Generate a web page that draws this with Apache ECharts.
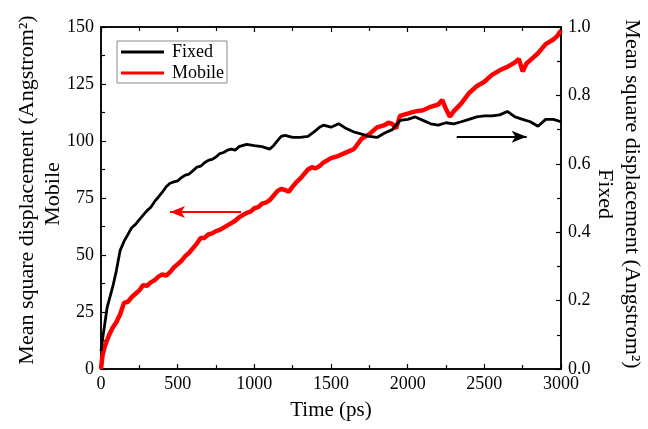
<!DOCTYPE html>
<html>
<head>
<meta charset="utf-8">
<script src="https://cdn.jsdelivr.net/npm/echarts@6/dist/echarts.min.js"></script>
<style>html,body{margin:0;padding:0;background:#fff;}#c{width:648px;height:429px;}</style>
</head>
<body>
<div id="c"></div>
<script>
// ---- data ----
const fixedTime = [0,10,25,40,60,80,100,125,150,175,200,225,250,275,300,325,350,375,400,425,450,475,500,525,550,575,600,625,650,675,700,725,750,775,800,825,850,875,900,950,1000,1050,1100,1125,1150,1175,1200,1250,1300,1350,1400,1425,1450,1500,1550,1600,1650,1700,1750,1800,1850,1900,1950,2000,2050,2100,2150,2200,2250,2300,2350,2400,2450,2500,2550,2600,2650,2700,2750,2800,2850,2900,2950,3000];
const fixedMSD = [0.053,0.087,0.133,0.18,0.213,0.247,0.287,0.347,0.373,0.393,0.413,0.423,0.437,0.45,0.463,0.473,0.49,0.503,0.517,0.533,0.543,0.547,0.55,0.56,0.567,0.57,0.58,0.59,0.593,0.603,0.61,0.613,0.62,0.63,0.633,0.64,0.643,0.64,0.65,0.657,0.653,0.65,0.643,0.653,0.667,0.68,0.683,0.677,0.677,0.68,0.697,0.707,0.713,0.707,0.717,0.703,0.693,0.687,0.68,0.677,0.69,0.70,0.727,0.73,0.737,0.727,0.717,0.713,0.72,0.717,0.723,0.73,0.737,0.74,0.74,0.743,0.753,0.737,0.73,0.723,0.71,0.73,0.73,0.723];
const mobileTime = [0,10,25,50,75,100,125,150,175,200,225,250,275,300,325,350,375,400,425,450,475,500,525,550,575,600,625,650,675,700,725,750,775,800,825,850,875,900,925,950,975,1000,1025,1050,1075,1100,1125,1150,1175,1200,1225,1250,1275,1300,1325,1350,1375,1400,1425,1450,1475,1500,1550,1600,1650,1700,1750,1800,1850,1875,1900,1925,1950,2000,2050,2100,2150,2200,2225,2250,2275,2300,2350,2400,2450,2500,2550,2600,2650,2700,2725,2750,2775,2800,2850,2900,2950,2975,3000];
const mobileMSD = [0,6,10,14.5,18,20.5,24,29,29.5,31.5,33,34.5,36.8,36.5,38,39,40.5,41.5,41,42.5,44.5,46,47.5,49.5,51,53,55,57.5,57.5,59,59.5,60.5,61,62,63,64,65,66.5,67.5,68.5,69,70.5,71,72.5,73,74,76,78,79,78.5,77.8,80,82,83.6,85.5,87.5,88.5,88,89,90.5,91.5,92.5,93.5,95,96.5,101,103,106,107,108,107.5,105.5,111,112,113,113.5,115,116,118,114,110.7,113,116.5,121,124,126,129,131,132.5,134.5,136,130.5,134,135.5,138.5,142.5,144.5,146,148.5];
const xTicks = {min: 0, max: 3000, interval: 500};
const leftTicks = {min: 0, max: 150, interval: 25};
const rightTicks = {min: 0, max: 1.0, interval: 0.2};
const seriesNames = ['Fixed', 'Mobile'];
// annotation arrows in data units
const mobileArrow = [[913, 68.9], [450, 68.9]];
const fixedArrow = [[2320, 0.679], [2776, 0.679]];

const pair = (t, v) => t.map((x, i) => [x, v[i]]);
const FONT = '"Liberation Serif", "Times New Roman", serif';
const chart = echarts.init(document.getElementById('c'), null, {renderer: 'canvas'});

const axisCommon = {
  axisLine: {show: true, onZero: false, lineStyle: {color: '#000', width: 1.5}},
  axisTick: {show: true, inside: true, length: 5, lineStyle: {color: '#000', width: 1.2}},
  minorTick: {show: true, splitNumber: 2, length: 4, lineStyle: {color: '#000', width: 1.2}},
  splitLine: {show: false},
  minorSplitLine: {show: false},
  axisLabel: {color: '#000', fontFamily: FONT, fontSize: 18}
};

chart.setOption({
  animation: false,
  backgroundColor: '#fff',
  grid: {left: 101, right: 87, top: 27, bottom: 60, containLabel: false, show: true, borderColor: '#000', borderWidth: 1.5, backgroundColor: 'transparent'},
  legend: {
    data: seriesNames,
    orient: 'vertical',
    left: 117, top: 41,
    padding: [2, 3, 1, 4],
    itemGap: 3,
    itemWidth: 43, itemHeight: 3,
    icon: 'rect',
    borderColor: '#888', borderWidth: 1,
    textStyle: {color: '#000', fontFamily: FONT, fontSize: 18, padding: [0, 0, 0, 3]}
  },
  xAxis: [
    Object.assign({}, axisCommon, {type: 'value', position: 'bottom', min: xTicks.min, max: xTicks.max, interval: xTicks.interval,
      axisLabel: Object.assign({}, axisCommon.axisLabel, {margin: 6, formatter: v => String(v)})}),
    Object.assign({}, axisCommon, {type: 'value', position: 'top', min: xTicks.min, max: xTicks.max, interval: xTicks.interval,
      axisLabel: {show: false}})
  ],
  yAxis: [
    Object.assign({}, axisCommon, {type: 'value', position: 'left', min: leftTicks.min, max: leftTicks.max, interval: leftTicks.interval,
      axisLabel: Object.assign({}, axisCommon.axisLabel, {margin: 7, formatter: v => String(v)})}),
    Object.assign({}, axisCommon, {type: 'value', position: 'right', min: rightTicks.min, max: rightTicks.max, interval: rightTicks.interval,
      axisLabel: Object.assign({}, axisCommon.axisLabel, {margin: 7, formatter: v => v.toFixed(1)})})
  ],
  series: [
    {
      name: seriesNames[0], type: 'line', xAxisIndex: 0, yAxisIndex: 1,
      data: pair(fixedTime, fixedMSD), showSymbol: false, symbol: 'none', z: 4,
      lineStyle: {color: '#000', width: 2.8}, itemStyle: {color: '#000'},
      markLine: {silent: true, symbol: ['none', 'arrow'], symbolSize: [9, 15], label: {show: false},
        lineStyle: {color: '#000', width: 2, type: 'solid'},
        data: [[{coord: fixedArrow[0]}, {coord: fixedArrow[1]}]]}
    },
    {
      name: seriesNames[1], type: 'line', xAxisIndex: 0, yAxisIndex: 0,
      data: pair(mobileTime, mobileMSD), showSymbol: false, symbol: 'none', z: 3,
      lineStyle: {color: '#ff0000', width: 4.5}, itemStyle: {color: '#ff0000'},
      markLine: {silent: true, symbol: ['none', 'arrow'], symbolSize: [9, 15], label: {show: false},
        lineStyle: {color: '#ff0000', width: 2, type: 'solid'},
        data: [[{coord: mobileArrow[0]}, {coord: mobileArrow[1]}]]}
    }
  ],
  graphic: [
    {type: 'text', x: 331, y: 410, style: {text: 'Time (ps)', font: '21px ' + FONT, fill: '#000', align: 'center', verticalAlign: 'middle'}},
    {type: 'text', x: 27, y: 190, rotation: Math.PI / 2, style: {text: 'Mean square displacement (Angstrom²)', font: '22px ' + FONT, fill: '#000', align: 'center', verticalAlign: 'middle'}},
    {type: 'text', x: 53, y: 194, rotation: Math.PI / 2, style: {text: 'Mobile', font: '22px ' + FONT, fill: '#000', align: 'center', verticalAlign: 'middle'}},
    {type: 'text', x: 632, y: 194, rotation: -Math.PI / 2, style: {text: 'Mean square displacement (Angstrom²)', font: '22px ' + FONT, fill: '#000', align: 'center', verticalAlign: 'middle'}},
    {type: 'text', x: 605, y: 194, rotation: -Math.PI / 2, style: {text: 'Fixed', font: '22px ' + FONT, fill: '#000', align: 'center', verticalAlign: 'middle'}}
  ]
});
</script>
</body>
</html>
